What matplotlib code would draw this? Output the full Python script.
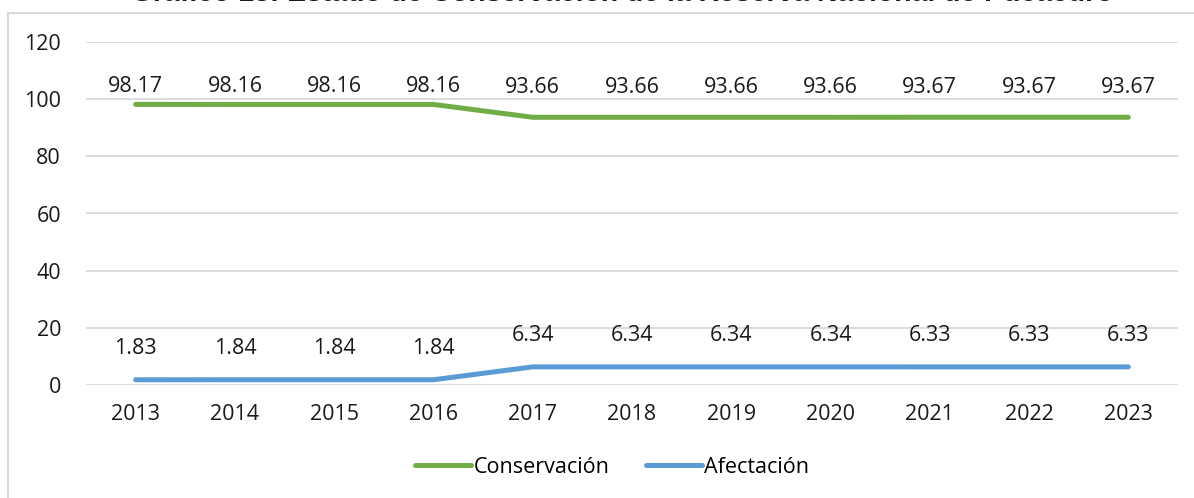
import matplotlib.pyplot as plt
from matplotlib.patches import Rectangle

years = ["2013", "2014", "2015", "2016", "2017", "2018", "2019", "2020", "2021", "2022", "2023"]
conservacion = [98.17, 98.16, 98.16, 98.16, 93.66, 93.66, 93.66, 93.66, 93.67, 93.67, 93.67]
afectacion = [1.83, 1.84, 1.84, 1.84, 6.34, 6.34, 6.34, 6.34, 6.33, 6.33, 6.33]

green = "#70AD47"
blue = "#5B9BD5"
font = "Open Sans"
fs = 15.5

fig = plt.figure(figsize=(11.94, 4.98), dpi=100)
fig.patches.append(Rectangle((8 / 1194, -0.1), 1.2, 1 - 13 / 498 + 0.1, transform=fig.transFigure,
                             facecolor="white", edgecolor="#D9D9D9", linewidth=1.5, zorder=-1))

ax = fig.add_axes([86 / 1194, 1 - 385 / 498, (1178 - 86) / 1194, (385 - 42) / 498])
x = list(range(len(years)))
ax.plot(x, conservacion, color=green, linewidth=3.6, solid_capstyle="round", label="Conservación")
ax.plot(x, afectacion, color=blue, linewidth=3.6, solid_capstyle="round", label="Afectación")

# etiquetas de datos
for i in x:
    ax.text(i, min(conservacion[i] + 10.5, 104.6), f"{conservacion[i]:.2f}", ha="center", va="center",
            fontsize=fs, family=font, color="#1a1a1a")
    ax.text(i, afectacion[i] + 11.0, f"{afectacion[i]:.2f}", ha="center", va="center",
            fontsize=fs, family=font, color="#1a1a1a")

ax.set_xlim(-0.5, len(years) - 0.5)
ax.set_ylim(0, 120)
ax.set_yticks(range(0, 121, 20))
ax.set_xticks(x)
ax.set_xticklabels(years)
ax.grid(axis="y", color="#D9D9D9", linewidth=1.3)
ax.set_axisbelow(True)
for s in ax.spines.values():
    s.set_visible(False)
ax.tick_params(length=0, labelsize=fs, labelcolor="#1a1a1a", pad=14)
ax.tick_params(axis="y", pad=18)
for lab in ax.get_xticklabels() + ax.get_yticklabels():
    lab.set_family(font)
ax.set_facecolor("none")

fig.legend(loc="center", bbox_to_anchor=(612 / 1194, 1 - 467 / 498), ncol=2, frameon=False,
           prop={"family": font, "size": fs}, handlelength=2.6, handletextpad=0.1, columnspacing=1.7)

fig.text(622 / 1194, 1 - 1 / 498, "Gráfico 18: Estado de Conservación de la Reserva Nacional de Pucacuro",
         ha="center", va="baseline", fontsize=20.4, fontweight="bold", family="Liberation Sans", color="#1a1a1a")

fig.savefig("out.png", dpi=100)
